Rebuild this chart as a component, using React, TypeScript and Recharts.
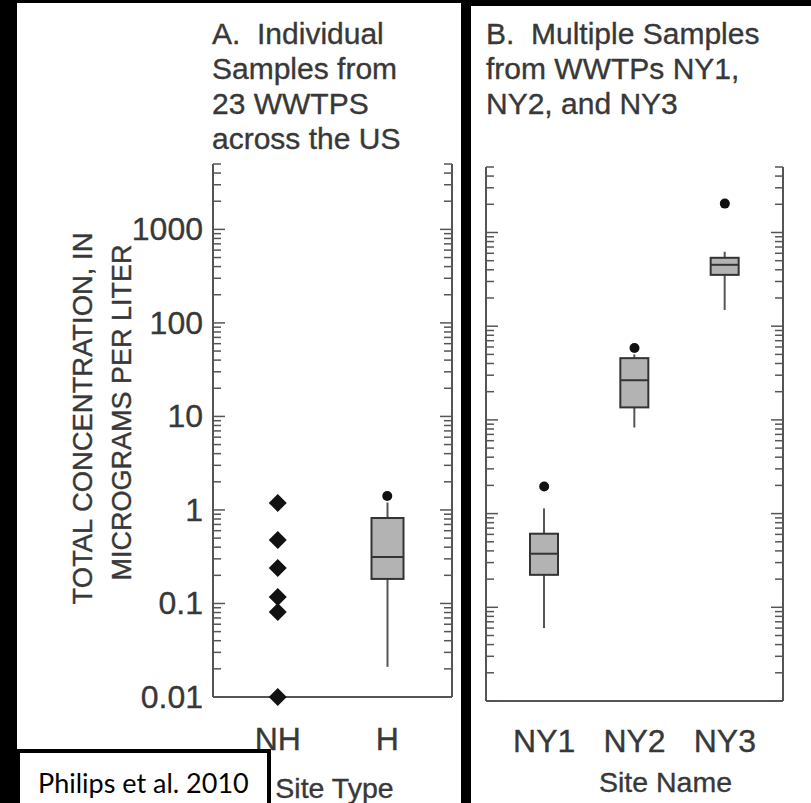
import React from 'react';
import { ComposedChart, Bar, Scatter, XAxis, YAxis } from 'recharts';

// ---------- axis ticks ----------
const LOG_DOMAIN: [number, number] = [0.01, 5000];
const MAJOR_VALUES = [0.01, 0.1, 1, 10, 100, 1000];
const MAJOR_LABELS = ['0.01', '0.1', '1', '10', '100', '1000'];
const MINOR_MULTIPLIERS = [2, 3, 4, 5, 6, 7, 8, 9];

// ---------- panel A : site type ----------
const siteTypes = ['NH', 'H'];
const siteTypeWhiskerLow = [null, 0.021];
const siteTypeQ1 = [null, 0.183];
const siteTypeMedian = [null, 0.314];
const siteTypeQ3 = [null, 0.82];
const siteTypeWhiskerHigh = [null, 1.2];
const nhSamples = [1.19, 0.477, 0.24, 0.117, 0.081, 0.01];
const hOutliers = [1.41];

// ---------- panel B : site name ----------
const siteNames = ['NY1', 'NY2', 'NY3'];
const siteNameWhiskerLow = [0.06, 8.3, 149];
const siteNameQ1 = [0.222, 13.6, 353];
const siteNameMedian = [0.373, 26.5, 452];
const siteNameQ3 = [0.61, 45.6, 537];
const siteNameWhiskerHigh = [1.13, 50, 623];
const siteNameOutliers = [1.95, 58.4, 2033];

const TEXT = '#383838';
const AXIS = '#555555';
const FONT = '"Liberation Sans", Arial, Helvetica, sans-serif';
const TEXT_STROKE = { stroke: TEXT, strokeWidth: 0.35 };

const ALL_TICKS: number[] = MAJOR_VALUES.flatMap((d) => [d, ...MINOR_MULTIPLIERS.map((m) => m * d)]).filter(
  (v) => v <= LOG_DOMAIN[1] * 1.000001
);

const majorIndex = (v: number) => MAJOR_VALUES.findIndex((m) => Math.abs(m - v) / m < 1e-9);

const buildBoxes = (
  cats: string[],
  lo: (number | null)[],
  q1: (number | null)[],
  med: (number | null)[],
  q3: (number | null)[],
  hi: (number | null)[]
) =>
  cats.map((c, i) => ({
    site: c,
    box: q1[i] == null ? null : [q1[i], q3[i]],
    lo: lo[i],
    q1: q1[i],
    med: med[i],
    q3: q3[i],
    hi: hi[i],
  }));

const dataA = buildBoxes(siteTypes, siteTypeWhiskerLow, siteTypeQ1, siteTypeMedian, siteTypeQ3, siteTypeWhiskerHigh);
const dataB = buildBoxes(siteNames, siteNameWhiskerLow, siteNameQ1, siteNameMedian, siteNameQ3, siteNameWhiskerHigh);
const nhPoints = nhSamples.map((v) => ({ site: 'NH', value: v }));
const hOutlierPoints = hOutliers.map((v) => ({ site: 'H', value: v }));
const nyOutlierPoints = siteNames.map((s, i) => ({ site: s, value: siteNameOutliers[i] }));

// ---------- shapes ----------
const BoxShape = (props: any) => {
  const { x, y, width, height, payload } = props;
  if (!payload || payload.q1 == null || !(height > 0)) return null;
  const L = Math.log10;
  const k = height / (L(payload.q3) - L(payload.q1));
  const yOf = (v: number) => y + (L(payload.q3) - L(v)) * k;
  const cx = x + width / 2;
  return (
    <g>
      <line x1={cx} x2={cx} y1={yOf(payload.hi)} y2={y} stroke={AXIS} strokeWidth={2} />
      <line x1={cx} x2={cx} y1={y + height} y2={yOf(payload.lo)} stroke={AXIS} strokeWidth={2} />
      <rect x={x} y={y} width={width} height={height} fill="#b3b3b3" stroke="#333" strokeWidth={2} />
      <line x1={x} x2={x + width} y1={yOf(payload.med)} y2={yOf(payload.med)} stroke="#333" strokeWidth={2} />
    </g>
  );
};

const Diamond = (props: any) => {
  const { cx, cy } = props;
  const r = 9;
  return <polygon points={`${cx},${cy - r} ${cx + r},${cy} ${cx},${cy + r} ${cx - r},${cy}`} fill="#111" />;
};

const Dot = (props: any) => {
  const { cx, cy } = props;
  return <circle cx={cx} cy={cy} r={5} fill="#111" />;
};

// ---------- ticks ----------
const makeYTick = (side: 'left' | 'right', margin: number, showLabels: boolean) => (props: any) => {
  const { x, y, payload } = props;
  const v = payload.value;
  const mi = majorIndex(v);
  const major = mi >= 0;
  const len = major ? 12 : 8;
  const ax = side === 'left' ? x + margin : x - margin;
  const x2 = side === 'left' ? ax + len : ax - len;
  return (
    <g>
      <line x1={ax} x2={x2} y1={y} y2={y} stroke={AXIS} strokeWidth={1.5} />
      {showLabels && major ? (
        <text x={x} y={y} textAnchor="end" dominantBaseline="central" fontSize={32} fill={TEXT} fontFamily={FONT} {...TEXT_STROKE}>
          {MAJOR_LABELS[mi]}
        </text>
      ) : null}
    </g>
  );
};

const XTick = (props: any) => {
  const { x, y, payload } = props;
  return (
    <text x={x} y={y} textAnchor="middle" fontSize={32} fill={TEXT} fontFamily={FONT} {...TEXT_STROKE}>
      {payload.value}
    </text>
  );
};

const xLabel = (text: string, dx: number, dy: number) => (props: any) => {
  const vb = props.viewBox || {};
  return (
    <text x={vb.x + vb.width / 2 + dx} y={vb.y + dy} textAnchor="middle" fontSize={28.5} fill={TEXT} fontFamily={FONT} {...TEXT_STROKE}>
      {text}
    </text>
  );
};

const yTitle = (props: any) => {
  const vb = props.viewBox || {};
  const mid = vb.y + vb.height / 2;
  const cy1 = mid - 12;
  const cy2 = mid - 18;
  const x1 = vb.x + 82;
  const x2 = vb.x + 122;
  return (
    <g>
      <text x={x1} y={cy1} transform={`rotate(-90, ${x1}, ${cy1})`} textAnchor="middle" dominantBaseline="central" fontSize={27.4} fill={TEXT} fontFamily={FONT} {...TEXT_STROKE}>
        TOTAL CONCENTRATION, IN
      </text>
      <text x={x2} y={cy2} transform={`rotate(-90, ${x2}, ${cy2})`} textAnchor="middle" dominantBaseline="central" fontSize={27} fill={TEXT} fontFamily={FONT} {...TEXT_STROKE}>
        MICROGRAMS PER LITER
      </text>
    </g>
  );
};

const axisLineStyle = { stroke: AXIS, strokeWidth: 2 };

const titleA = ['A.  Individual', 'Samples from', '23 WWTPS', 'across the US'];
const titleB = ['B.  Multiple Samples', 'from WWTPs NY1,', 'NY2, and NY3'];

export default function App() {
  return (
    <div
      style={{
        position: 'absolute',
        left: 0,
        top: 0,
        width: 811,
        height: 803,
        background: '#000',
        overflow: 'hidden',
        fontFamily: FONT,
      }}
    >
      <div style={{ position: 'absolute', left: 17, top: 3, width: 444, height: 800, background: '#fff' }} />
      <div style={{ position: 'absolute', left: 471, top: 6, width: 340, height: 797, background: '#fff' }} />

      <div style={{ position: 'absolute', left: 0, top: 0 }}>
        <ComposedChart width={461} height={803} data={dataA} margin={{ top: 164, right: 0, bottom: 46, left: 0 }}>
          <XAxis
            dataKey="site"
            type="category"
            allowDuplicatedCategory={false}
            padding={{ left: 10, right: 10 }}
            height={60}
            tickLine={false}
            tickSize={0}
            tickMargin={53}
            interval={0}
            axisLine={axisLineStyle}
            tick={<XTick />}
            label={xLabel('Site Type', 2, 101)}
          />
          <XAxis
            xAxisId="top"
            orientation="top"
            dataKey="site"
            allowDuplicatedCategory={false}
            height={0}
            tick={false}
            tickLine={false}
            axisLine={axisLineStyle}
          />
          <YAxis
            yAxisId="l"
            scale="log"
            domain={LOG_DOMAIN}
            ticks={ALL_TICKS}
            interval={0}
            width={213}
            tickLine={false}
            tickSize={0}
            tickMargin={10}
            tick={makeYTick('left', 10, true)}
            axisLine={axisLineStyle}
            label={yTitle}
          />
          <YAxis
            yAxisId="r"
            orientation="right"
            scale="log"
            domain={LOG_DOMAIN}
            allowDataOverflow
            ticks={ALL_TICKS}
            interval={0}
            width={9}
            tickLine={false}
            tickSize={0}
            tickMargin={4}
            tick={makeYTick('right', 4, false)}
            axisLine={axisLineStyle}
          />
          <Bar yAxisId="l" dataKey="box" barSize={32} shape={BoxShape} isAnimationActive={false} />
          <Scatter yAxisId="l" data={nhPoints} dataKey="value" shape={Diamond} isAnimationActive={false} />
          <Scatter yAxisId="l" data={hOutlierPoints} dataKey="value" shape={Dot} isAnimationActive={false} />
        </ComposedChart>
      </div>

      <div style={{ position: 'absolute', left: 471, top: 0 }}>
        <ComposedChart width={340} height={803} data={dataB} margin={{ top: 167, right: 0, bottom: 42, left: 0 }}>
          <XAxis
            dataKey="site"
            type="category"
            allowDuplicatedCategory={false}
            padding={{ left: 13, right: 13 }}
            height={60}
            tickLine={false}
            tickSize={0}
            tickMargin={51}
            interval={0}
            axisLine={axisLineStyle}
            tick={<XTick />}
            label={xLabel('Site Name', 31, 91)}
          />
          <XAxis
            xAxisId="top"
            orientation="top"
            dataKey="site"
            allowDuplicatedCategory={false}
            height={0}
            tick={false}
            tickLine={false}
            axisLine={axisLineStyle}
          />
          <YAxis
            yAxisId="l"
            scale="log"
            domain={LOG_DOMAIN}
            ticks={ALL_TICKS}
            interval={0}
            width={15}
            tickLine={false}
            tickSize={0}
            tickMargin={4}
            tick={makeYTick('left', 4, false)}
            axisLine={axisLineStyle}
          />
          <YAxis
            yAxisId="r"
            orientation="right"
            scale="log"
            domain={LOG_DOMAIN}
            allowDataOverflow
            ticks={ALL_TICKS}
            interval={0}
            width={28}
            tickLine={false}
            tickSize={0}
            tickMargin={4}
            tick={makeYTick('right', 4, false)}
            axisLine={axisLineStyle}
          />
          <Bar yAxisId="l" dataKey="box" barSize={28} shape={BoxShape} isAnimationActive={false} />
          <Scatter yAxisId="l" data={nyOutlierPoints} dataKey="value" shape={Dot} isAnimationActive={false} />
        </ComposedChart>
      </div>

      <svg width={811} height={803} style={{ position: 'absolute', left: 0, top: 0, pointerEvents: 'none' }}>
        <g fontFamily={FONT} fontSize={30} fill={TEXT} {...TEXT_STROKE}>
          {titleA.map((t, i) => (
            <text key={'a' + i} x={212} y={44 + i * 35} xmlSpace="preserve" style={{ whiteSpace: 'pre' }}>
              {t}
            </text>
          ))}
          {titleB.map((t, i) => (
            <text key={'b' + i} x={486} y={44 + i * 35} xmlSpace="preserve" style={{ whiteSpace: 'pre' }}>
              {t}
            </text>
          ))}
        </g>
        <rect x={17} y={749} width={254} height={60} fill="#000" />
        <rect x={20} y={753} width={247} height={60} fill="#fff" />
        <text x={38} y={793} fontFamily="Lato, 'Open Sans', sans-serif" fontSize={27} fill="#000">
          Philips et al. 2010
        </text>
      </svg>
    </div>
  );
}
